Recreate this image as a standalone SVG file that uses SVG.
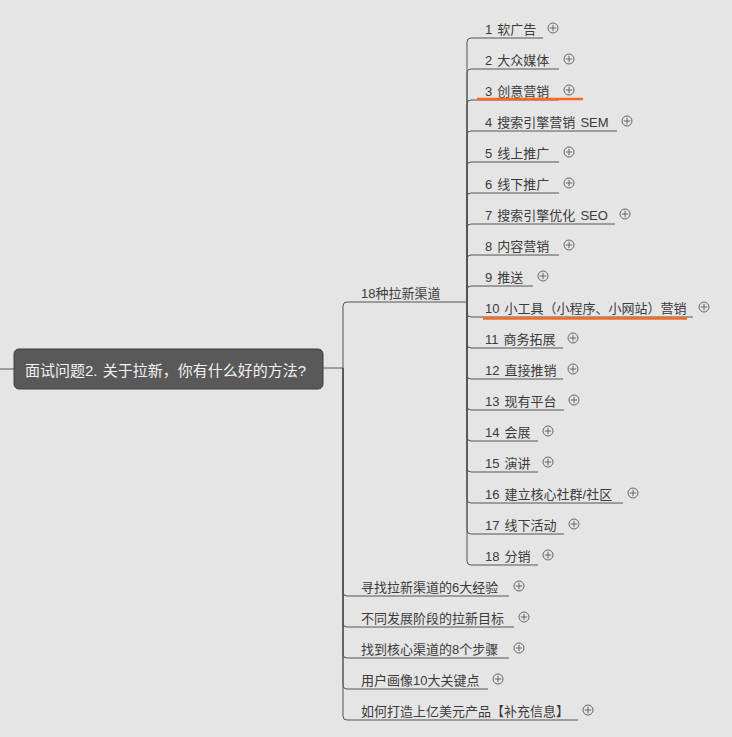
<svg xmlns="http://www.w3.org/2000/svg" xmlns:xlink="http://www.w3.org/1999/xlink" width="732" height="737" viewBox="0 0 732 737">
<style>
.bg{fill:#e5e5e5}
.ln{fill:none;stroke:#555;stroke-width:1}
.t{font-family:"Liberation Sans","Noto Sans CJK SC",sans-serif;font-size:13px;fill:#3b3b3b;word-spacing:1.5px}
.rt{font-family:"Liberation Sans","Noto Sans CJK SC",sans-serif;font-size:15px;fill:#f2f2f2;word-spacing:1px}
.pc{fill:none;stroke:#666;stroke-width:1}
.hl{fill:none;stroke:#fa6a1e;stroke-width:2.5}
</style>
<defs>
<g id="plus"><circle class="pc" cx="0" cy="0" r="5"/><path class="pc" d="M-3.2,0H3.2M0,-3.2V3.2"/></g>
</defs>
<rect class="bg" x="0" y="0" width="732" height="737"/>
<g id="connectors">
<path class="ln" d="M0,369H14"/>
<path class="ln" d="M323,368H343"/>
<path class="ln" d="M343,368V306Q343,302 347,302H467"/>
<path class="ln" d="M343,368V592Q343,596 347,596H509"/>
<path class="ln" d="M343,368V623Q343,627 347,627H514"/>
<path class="ln" d="M343,368V654Q343,658 347,658H509"/>
<path class="ln" d="M343,368V685Q343,689 347,689H488"/>
<path class="ln" d="M343,368V716Q343,720 347,720H578"/>
<path class="ln" d="M467,302V42Q467,38 471,38H543"/>
<path class="ln" d="M467,302V73Q467,69 471,69H559"/>
<path class="ln" d="M467,302V104Q467,100 471,100H559"/>
<path class="ln" d="M467,302V135Q467,131 471,131H617"/>
<path class="ln" d="M467,302V166Q467,162 471,162H559"/>
<path class="ln" d="M467,302V197Q467,193 471,193H559"/>
<path class="ln" d="M467,302V228Q467,224 471,224H615"/>
<path class="ln" d="M467,302V259Q467,255 471,255H559"/>
<path class="ln" d="M467,302V290Q467,286 471,286H533"/>
<path class="ln" d="M467,302V313Q467,317 471,317H693"/>
<path class="ln" d="M467,302V344Q467,348 471,348H563"/>
<path class="ln" d="M467,302V375Q467,379 471,379H563"/>
<path class="ln" d="M467,302V406Q467,410 471,410H564"/>
<path class="ln" d="M467,302V437Q467,441 471,441H538"/>
<path class="ln" d="M467,302V468Q467,472 471,472H538"/>
<path class="ln" d="M467,302V499Q467,503 471,503H623"/>
<path class="ln" d="M467,302V530Q467,534 471,534H564"/>
<path class="ln" d="M467,302V561Q467,565 471,565H538"/>
</g>
<g id="root">
<rect x="14" y="349" width="309" height="40" rx="5" fill="#595959" stroke="#3f3f3f" stroke-width="1"/>
<text class="rt" x="25" y="376">面试问题2. 关于拉新，你有什么好的方法?</text>
</g>
<g id="n-channels"><text class="t" x="361" y="297.5">18种拉新渠道</text></g>
<g id="n1"><text class="t" x="485" y="34">1 软广告</text><use xlink:href="#plus" x="553" y="28"/></g>
<g id="n2"><text class="t" x="485" y="65">2 大众媒体</text><use xlink:href="#plus" x="569" y="59"/></g>
<g id="n3"><text class="t" x="485" y="96">3 创意营销</text><use xlink:href="#plus" x="569" y="90"/><path class="hl" d="M477,99H583"/></g>
<g id="n4"><text class="t" x="485" y="127">4 搜索引擎营销 SEM</text><use xlink:href="#plus" x="627" y="121"/></g>
<g id="n5"><text class="t" x="485" y="158">5 线上推广</text><use xlink:href="#plus" x="569" y="152"/></g>
<g id="n6"><text class="t" x="485" y="189">6 线下推广</text><use xlink:href="#plus" x="569" y="183"/></g>
<g id="n7"><text class="t" x="485" y="220">7 搜索引擎优化 SEO</text><use xlink:href="#plus" x="625" y="214"/></g>
<g id="n8"><text class="t" x="485" y="251">8 内容营销</text><use xlink:href="#plus" x="569" y="245"/></g>
<g id="n9"><text class="t" x="485" y="282">9 推送</text><use xlink:href="#plus" x="543" y="276"/></g>
<g id="n10"><text class="t" x="485" y="313">10 小工具（小程序、小网站）营销</text><use xlink:href="#plus" x="704" y="307"/><path class="hl" d="M483,318.5H687"/></g>
<g id="n11"><text class="t" x="485" y="344">11 商务拓展</text><use xlink:href="#plus" x="573" y="338"/></g>
<g id="n12"><text class="t" x="485" y="375">12 直接推销</text><use xlink:href="#plus" x="573" y="369"/></g>
<g id="n13"><text class="t" x="485" y="406">13 现有平台</text><use xlink:href="#plus" x="574" y="400"/></g>
<g id="n14"><text class="t" x="485" y="437">14 会展</text><use xlink:href="#plus" x="548" y="431"/></g>
<g id="n15"><text class="t" x="485" y="468">15 演讲</text><use xlink:href="#plus" x="548" y="462"/></g>
<g id="n16"><text class="t" x="485" y="499">16 建立核心社群/社区</text><use xlink:href="#plus" x="633" y="493"/></g>
<g id="n17"><text class="t" x="485" y="530">17 线下活动</text><use xlink:href="#plus" x="574" y="524"/></g>
<g id="n18"><text class="t" x="485" y="561">18 分销</text><use xlink:href="#plus" x="548" y="555"/></g>
<g id="b1"><text class="t" x="361" y="592">寻找拉新渠道的6大经验</text><use xlink:href="#plus" x="519" y="586"/></g>
<g id="b2"><text class="t" x="361" y="623">不同发展阶段的拉新目标</text><use xlink:href="#plus" x="524" y="617"/></g>
<g id="b3"><text class="t" x="361" y="654">找到核心渠道的8个步骤</text><use xlink:href="#plus" x="519" y="648"/></g>
<g id="b4"><text class="t" x="361" y="685">用户画像10大关键点</text><use xlink:href="#plus" x="498" y="679"/></g>
<g id="b5"><text class="t" x="361" y="716">如何打造上亿美元产品【补充信息】</text><use xlink:href="#plus" x="588" y="710"/></g>
</svg>
